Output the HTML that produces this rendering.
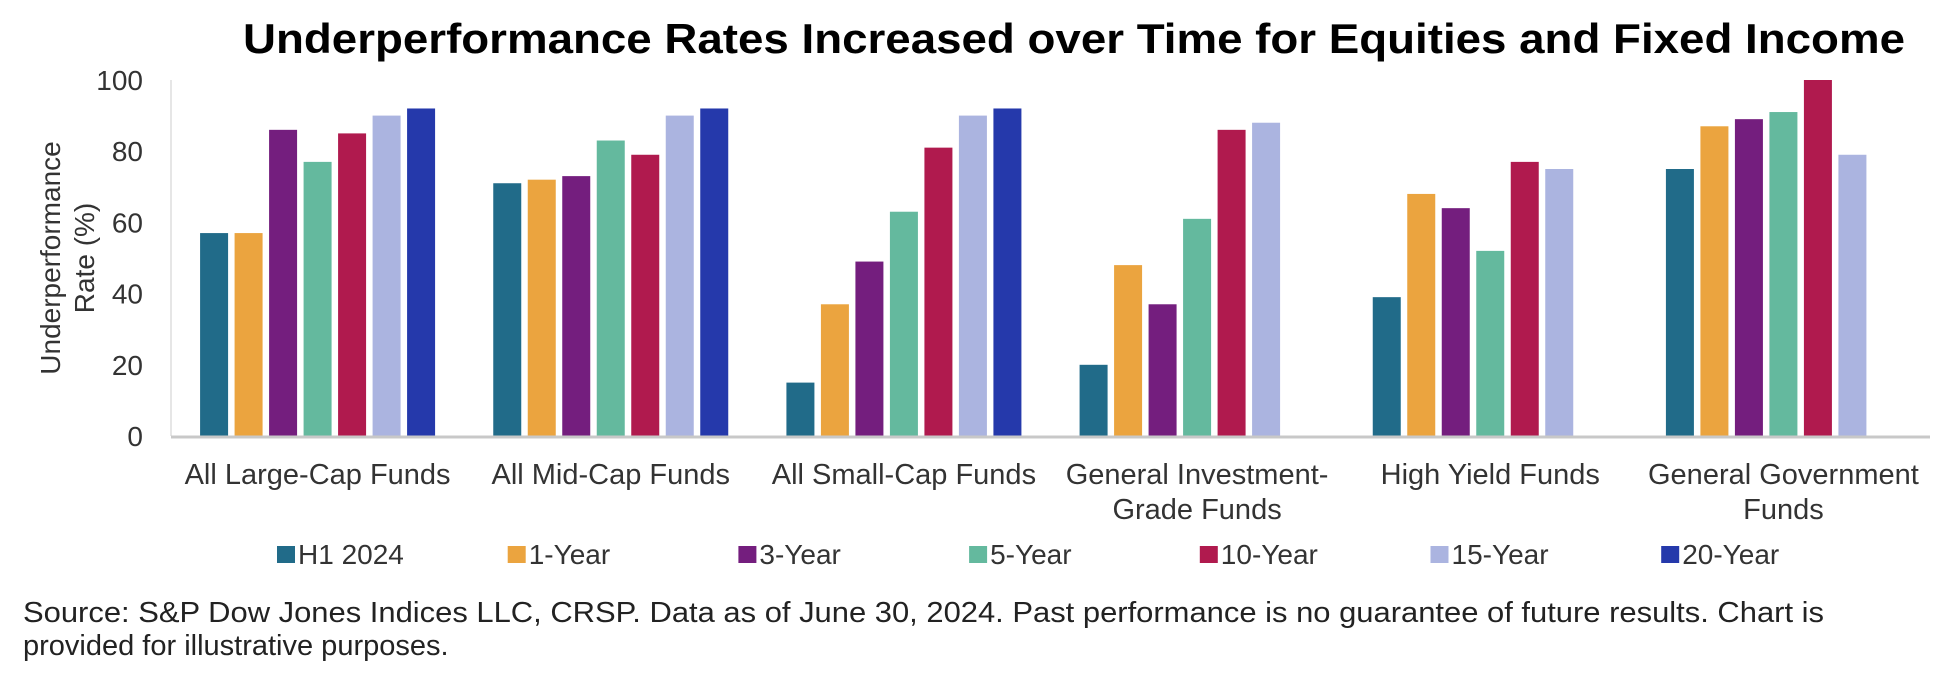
<!DOCTYPE html>
<html><head><meta charset="utf-8"><style>
body{margin:0;background:#fff;}
svg{display:block;font-family:"Liberation Sans",Arial,sans-serif;}
</style></head><body>
<svg id="chart" width="1950" height="680" viewBox="0 0 1950 680" xmlns="http://www.w3.org/2000/svg">
<text x="243" y="53" font-size="42" font-weight="bold" fill="#000" textLength="1662" lengthAdjust="spacingAndGlyphs">Underperformance Rates Increased over Time for Equities and Fixed Income</text>
<g font-size="28" fill="#333" text-anchor="middle">
<text transform="translate(60,258) rotate(-90)">Underperformance</text>
<text transform="translate(94,258) rotate(-90)">Rate (%)</text>
</g>
<g id="yticks"></g>
<line x1="171" y1="80" x2="171" y2="436" stroke="#ddd" stroke-width="1.5"/>
<g id="bars"></g>
<line x1="171" y1="437" x2="1930" y2="437" stroke="#c8c8c8" stroke-width="3"/>
<g id="xlabels"></g>
<g id="legend"></g>
<g font-size="29" fill="#222" style="white-space:pre">
<text x="23" y="622" textLength="1801" lengthAdjust="spacingAndGlyphs">Source: S&amp;P Dow Jones Indices LLC, CRSP.  Data as of June 30, 2024.  Past performance is no guarantee of future results.  Chart is</text>
<text x="23" y="655">provided for illustrative purposes.</text>
</g>
</svg>
<script>
const categories=[["All Large-Cap Funds"],["All Mid-Cap Funds"],["All Small-Cap Funds"],["General Investment-","Grade Funds"],["High Yield Funds"],["General Government","Funds"]];
const seriesNames=["H1 2024","1-Year","3-Year","5-Year","10-Year","15-Year","20-Year"];
const h1_2024=[57,71,15,20,39,75];
const year1=[57,72,37,48,68,87];
const year3=[86,73,49,37,64,89];
const year5=[77,83,63,61,52,91];
const year10=[85,79,81,86,77,100];
const year15=[90,90,90,88,75,79];
const year20=[92,92,92,null,null,null];
const yTicks=[0,20,40,60,80,100];
const seriesValues=[h1_2024,year1,year3,year5,year10,year15,year20];
const colors=["#216b89","#eba43f","#741e7e","#64b99e","#b01a4e","#abb4e0","#2539ab"];
const NS="http://www.w3.org/2000/svg";
const x0=171,x1=1930,yBase=436,yTop=80;
const gw=(x1-x0)/categories.length,slot=34.5,bw=28;
const y=v=>yBase-(v/100)*(yBase-yTop);
const gx=i=>x0+i*gw;
function mk(t,a){const e=document.createElementNS(NS,t);for(const k in a)e.setAttribute(k,a[k]);return e;}
const yt=document.getElementById('yticks');
yTicks.forEach(t=>{const e=mk('text',{x:143,y:y(t)+10,'text-anchor':'end','font-size':28,fill:'#333'});e.textContent=t;


yt.appendChild(e);});
const bars=document.getElementById('bars');
const pad=(gw-slot*seriesNames.length)/2;
categories.forEach((c,i)=>{seriesValues.forEach((s,j)=>{const v=s[i];if(v==null)return;
const bx=gx(i)+pad+j*slot+(slot-bw)/2;
const r=mk('rect',{x:bx,y:y(v),width:bw,height:yBase-y(v),fill:colors[j]});


bars.appendChild(r);});});
const xl=document.getElementById('xlabels');
categories.forEach((c,i)=>{c.forEach((line,k)=>{const e=mk('text',{x:gx(i)+gw/2,y:484+k*35,'text-anchor':'middle','font-size':29,fill:'#333'});e.textContent=line;


xl.appendChild(e);});});
const lg=document.getElementById('legend');
seriesNames.forEach((n,j)=>{const lx=277+j*230.7;
const g=mk('g',{});


g.appendChild(mk('rect',{x:lx,y:546,width:18,height:17,fill:colors[j]}));
const t=mk('text',{x:lx+21,y:564,'font-size':28,fill:'#333'});t.textContent=n;g.appendChild(t);lg.appendChild(g);});
</script>
</body></html>
